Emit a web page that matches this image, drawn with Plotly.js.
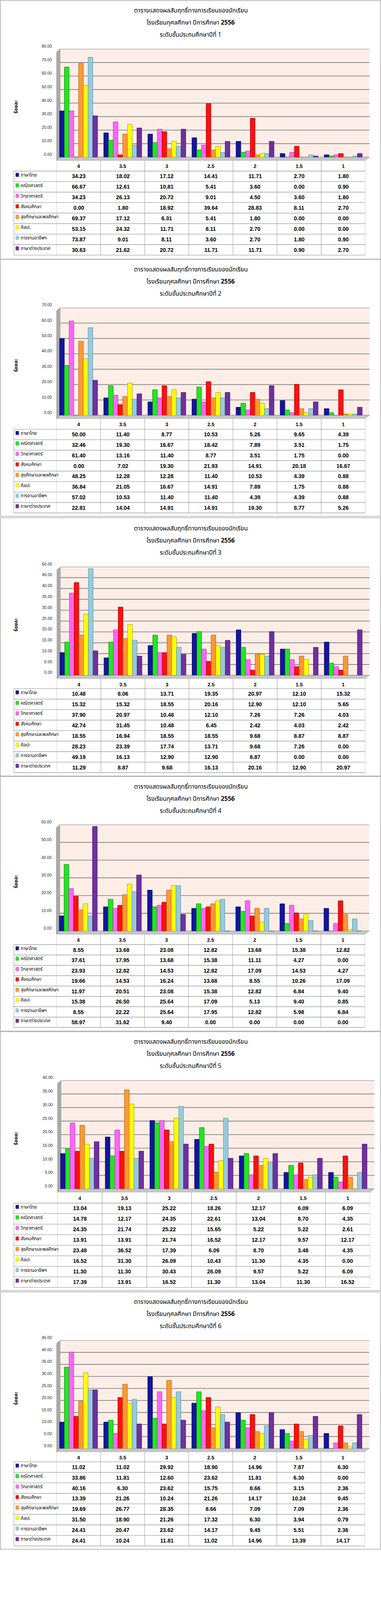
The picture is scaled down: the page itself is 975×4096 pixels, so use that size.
<!DOCTYPE html>
<html><head><meta charset="utf-8">
<script src="https://cdn.plot.ly/plotly-3.0.1.min.js"></script>
<style>html,body{margin:0;padding:0;background:#fff}#chart{width:975px;height:4096px}</style>
</head><body><div id="chart"></div>
<script>
// ---------- DATA ----------
const categories = ['4', '3.5', '3', '2.5', '2', '1.5', '1'];
const subjects = ['ภาษาไทย', 'คณิตศาสตร์', 'วิทยาศาสตร์', 'สังคมศึกษา', 'สุขศึกษาและพลศึกษา', 'ศิลปะ', 'การงานอาชีพฯ', 'ภาษาต่างประเทศ'];
const titleLine1 = 'ตารางแสดงผลสัมฤทธิ์ทางการเรียนของนักเรียน';
const titleLine2 = 'โรงเรียนกุศลศึกษา ปีการศึกษา <b>2556</b>';
const gradeTitles = ['ระดับชั้นประถมศึกษาปีที่ 1', 'ระดับชั้นประถมศึกษาปีที่ 2', 'ระดับชั้นประถมศึกษาปีที่ 3',
                     'ระดับชั้นประถมศึกษาปีที่ 4', 'ระดับชั้นประถมศึกษาปีที่ 5', 'ระดับชั้นประถมศึกษาปีที่ 6'];
const yTitle = 'ร้อยละ';

const grade1 = [
  [34.23, 18.02, 17.12, 14.41, 11.71, 2.70, 1.80],
  [66.67, 12.61, 10.81, 5.41, 3.60, 0.00, 0.90],
  [34.23, 26.13, 20.72, 9.01, 4.50, 3.60, 1.80],
  [0.00, 1.80, 18.92, 39.64, 28.83, 8.11, 2.70],
  [69.37, 17.12, 6.31, 5.41, 1.80, 0.00, 0.00],
  [53.15, 24.32, 11.71, 8.11, 2.70, 0.00, 0.00],
  [73.87, 9.01, 8.11, 3.60, 2.70, 1.80, 0.90],
  [30.63, 21.62, 20.72, 11.71, 11.71, 0.90, 2.70]
];
const grade2 = [
  [50.00, 11.40, 8.77, 10.53, 5.26, 9.65, 4.39],
  [32.46, 19.30, 16.67, 18.42, 7.89, 3.51, 1.75],
  [61.40, 13.16, 11.40, 8.77, 3.51, 1.75, 0.00],
  [0.00, 7.02, 19.30, 21.93, 14.91, 20.18, 16.67],
  [48.25, 12.28, 12.28, 11.40, 10.53, 4.39, 0.88],
  [36.84, 21.05, 16.67, 14.91, 7.89, 1.75, 0.88],
  [57.02, 10.53, 11.40, 11.40, 4.39, 4.39, 0.88],
  [22.81, 14.04, 14.91, 14.91, 19.30, 8.77, 5.26]
];
const grade3 = [
  [10.48, 8.06, 13.71, 19.35, 20.97, 12.10, 15.32],
  [15.32, 15.32, 18.55, 20.16, 12.90, 12.10, 5.65],
  [37.90, 20.97, 10.48, 12.10, 7.26, 7.26, 4.03],
  [42.74, 31.45, 10.48, 6.45, 2.42, 4.03, 2.42],
  [18.55, 16.94, 18.55, 18.55, 9.68, 8.87, 8.87],
  [28.23, 23.39, 17.74, 13.71, 9.68, 7.26, 0.00],
  [49.19, 16.13, 12.90, 12.90, 8.87, 0.00, 0.00],
  [11.29, 8.87, 9.68, 16.13, 20.16, 12.90, 20.97]
];
const grade4 = [
  [8.55, 13.68, 23.08, 12.82, 13.68, 15.38, 12.82],
  [37.61, 17.95, 13.68, 15.38, 11.11, 4.27, 0.00],
  [23.93, 12.82, 14.53, 12.82, 17.09, 14.53, 4.27],
  [19.66, 14.53, 16.24, 13.68, 8.55, 10.26, 17.09],
  [11.97, 20.51, 23.08, 15.38, 12.82, 6.84, 9.40],
  [15.38, 26.50, 25.64, 17.09, 5.13, 9.40, 0.85],
  [8.55, 22.22, 25.64, 17.95, 12.82, 5.98, 6.84],
  [58.97, 31.62, 9.40, 0.00, 0.00, 0.00, 0.00]
];
const grade5 = [
  [13.04, 19.13, 25.22, 18.26, 12.17, 6.09, 6.09],
  [14.78, 12.17, 24.35, 22.61, 13.04, 8.70, 4.35],
  [24.35, 21.74, 25.22, 15.65, 5.22, 5.22, 2.61],
  [13.91, 13.91, 21.74, 16.52, 12.17, 9.57, 12.17],
  [23.48, 36.52, 17.39, 6.09, 8.70, 3.48, 4.35],
  [16.52, 31.30, 26.09, 10.43, 11.30, 4.35, 0.00],
  [11.30, 11.30, 30.43, 26.09, 9.57, 5.22, 6.09],
  [17.39, 13.91, 16.52, 11.30, 13.04, 11.30, 16.52]
];
const grade6 = [
  [11.02, 11.02, 29.92, 18.90, 14.96, 7.87, 6.30],
  [33.86, 11.81, 12.60, 23.62, 11.81, 6.30, 0.00],
  [40.16, 6.30, 23.62, 15.75, 8.66, 3.15, 2.36],
  [13.39, 21.26, 10.24, 21.26, 14.17, 10.24, 9.45],
  [19.69, 26.77, 28.35, 8.66, 7.09, 7.09, 2.36],
  [31.50, 18.90, 21.26, 17.32, 6.30, 3.94, 0.79],
  [24.41, 20.47, 23.62, 14.17, 9.45, 5.51, 2.36],
  [24.41, 10.24, 11.81, 11.02, 14.96, 13.39, 14.17]
];
const yAxisMax = [80, 70, 50, 60, 40, 45];
const yAxisStep = [10, 10, 5, 10, 5, 5];

// ---------- STYLE / GEOMETRY ----------
const grades = [grade1, grade2, grade3, grade4, grade5, grade6];
const colors = ['#15159E', '#22E622', '#FF66FF', '#FF1010', '#FF9933', '#FFFF00', '#96CADC', '#7030A0'];
const edges  = ['#05054F', '#0E7A0E', '#A8389F', '#8A0000', '#A55A12', '#9C9400', '#5B8C9C', '#3E1060'];
const thaiFont = "Tahoma, 'Noto Sans Thai', 'Noto Sans', 'DejaVu Sans', sans-serif";
const numFont = "'Liberation Sans', Arial, sans-serif";
const W = 1260, H = 5293;
// reference-pixel geometry of each panel
const geom = [
  {top: 2,    bottom: 857,  title: 36,   wall: 162,  zero: 520,  row0: 566,  row1: 844,  left: 187, right: 1208},
  {top: 858,  bottom: 1708, title: 892,  wall: 1018, zero: 1374, row0: 1420, row1: 1697, left: 187, right: 1208},
  {top: 1713, bottom: 2567, title: 1749, wall: 1875, zero: 2234, row0: 2278, row1: 2556, left: 188, right: 1208},
  {top: 2569, bottom: 3411, title: 2603, wall: 2728, zero: 3080, row0: 3125, row1: 3399, left: 186, right: 1207},
  {top: 3413, bottom: 4270, title: 3447, wall: 3574, zero: 3933, row0: 3980, row1: 4259, left: 190, right: 1224},
  {top: 4274, bottom: 5125, title: 4308, wall: 4434, zero: 4792, row0: 4836, row1: 5114, left: 187, right: 1207}
];
const px = y => 1 - y / H;
const pxX = x => x / W;

const traces = [];
const shapes = [];
const annotations = [];
const layout = {
  width: 975, height: 4096,
  margin: {l: 0, r: 0, t: 0, b: 0},
  paper_bgcolor: '#ffffff', plot_bgcolor: 'rgba(0,0,0,0)',
  showlegend: false, barmode: 'group', bargap: 0.14, bargroupgap: 0,
  hovermode: false
};

grades.forEach((grade, g) => {
  const G = geom[g];
  const suf = g === 0 ? '' : String(g + 1);
  const xa = 'x' + suf, ya = 'y' + suf;

  grade.forEach((vals, s) => {
    traces.push({
      type: 'bar', x: categories, y: vals, xaxis: xa, yaxis: ya, name: subjects[s],
      marker: {color: colors[s], line: {color: edges[s], width: 1}},
      hoverinfo: 'skip'
    });
  });

  layout['xaxis' + suf] = {
    domain: [pxX(G.left), pxX(G.right)], anchor: ya, type: 'category',
    categoryorder: 'array', categoryarray: categories, range: [-0.5, 6.5],
    showgrid: false, zeroline: false, showline: false, ticks: '',
    tickfont: {family: numFont, size: 13, color: '#000', weight: 'bold'},
    ticklabelstandoff: 14, fixedrange: true
  };
  layout['yaxis' + suf] = {
    domain: [px(G.zero), px(G.wall)], anchor: xa, range: [0, yAxisMax[g]],
    tick0: 0, dtick: yAxisStep[g], tickformat: '.2f',
    showgrid: false, zeroline: false, showline: false, ticks: '',
    tickfont: {family: numFont, size: 10.4, color: '#222'},
    ticklabelstandoff: 11, ticklabelshift: -7, fixedrange: true
  };

  const wl = G.left + 12, wr = G.right + 14;
  // panel frame
  shapes.push({type: 'rect', xref: 'paper', yref: 'paper', x0: pxX(1), x1: pxX(1258), y0: px(G.bottom), y1: px(G.top),
    line: {color: '#A6A6A6', width: 1.5}, fillcolor: 'rgba(0,0,0,0)', layer: 'below'});
  // back wall
  shapes.push({type: 'rect', xref: 'paper', yref: 'paper', x0: pxX(wl), x1: pxX(wr), y0: px(G.zero), y1: px(G.wall),
    line: {width: 0}, fillcolor: '#FCEEE7', layer: 'below'});
  // gridlines on back wall
  for (let v = 0; v <= yAxisMax[g] + 1e-9; v += yAxisStep[g]) {
    shapes.push({type: 'line', xref: 'paper', yref: ya, x0: pxX(wl), x1: pxX(wr), y0: v, y1: v,
      line: {color: '#858585', width: 1.9}, layer: 'below'});
  }
  // left side wall
  shapes.push({type: 'path', xref: 'paper', yref: 'paper',
    path: `M ${pxX(G.left)} ${px(G.wall + 10)} L ${pxX(wl)} ${px(G.wall)} L ${pxX(wl)} ${px(G.zero)} L ${pxX(G.left)} ${px(G.zero + 11)} Z`,
    fillcolor: '#A9A9A9', line: {color: '#8E8E8E', width: 0.6}, layer: 'below'});
  // floor
  shapes.push({type: 'path', xref: 'paper', yref: 'paper',
    path: `M ${pxX(G.left)} ${px(G.zero + 11)} L ${pxX(wl)} ${px(G.zero)} L ${pxX(wr)} ${px(G.zero)} L ${pxX(G.right)} ${px(G.zero + 11)} Z`,
    fillcolor: '#C6C6C6', line: {color: '#9A9A9A', width: 0.6}, layer: 'below'});

  // data table
  const rh = (G.row1 - G.row0) / subjects.length;
  for (let i = 0; i <= subjects.length; i++) {
    const yy = G.row0 + i * rh;
    shapes.push({type: 'line', xref: 'paper', yref: 'paper', x0: pxX(46), x1: pxX(G.right), y0: px(yy), y1: px(yy),
      line: {color: '#A0A0A0', width: 1.4}});
  }
  for (let k = 0; k <= categories.length; k++) {
    shapes.push({type: 'line', xref: xa, yref: 'paper', x0: k - 0.5, x1: k - 0.5, y0: px(G.zero + 11), y1: px(G.row1),
      line: {color: '#A0A0A0', width: 1.1}});
  }
  shapes.push({type: 'line', xref: 'paper', yref: 'paper', x0: pxX(46), x1: pxX(46), y0: px(G.row0), y1: px(G.row1),
    line: {color: '#A0A0A0', width: 1.1}});

  subjects.forEach((name, s) => {
    const cy = G.row0 + (s + 0.5) * rh;
    shapes.push({type: 'rect', xref: 'paper', yref: 'paper', x0: pxX(52), x1: pxX(62), y0: px(cy + 1), y1: px(cy - 11),
      fillcolor: colors[s], line: {color: edges[s], width: 0.5}});
    annotations.push({xref: 'paper', yref: 'paper', x: pxX(66), y: px(cy - 4), xanchor: 'left', yanchor: 'middle',
      text: name, showarrow: false, font: {family: thaiFont, size: 11.5, color: '#000'}});
    grade[s].forEach((v, c) => {
      annotations.push({xref: xa, yref: 'paper', x: c, y: px(cy), xanchor: 'center', yanchor: 'middle',
        text: v.toFixed(2), showarrow: false, font: {family: numFont, size: 14, color: '#000', weight: 'bold'}});
    });
  });

  // titles
  [titleLine1, titleLine2, gradeTitles[g]].forEach((t, i) => {
    annotations.push({xref: 'paper', yref: 'paper', x: pxX(631), y: px(G.title + i * 40), xanchor: 'center', yanchor: 'middle',
      text: t, showarrow: false, font: {family: thaiFont, size: 15.5, color: '#000'}});
  });
  // y axis title
  annotations.push({xref: 'paper', yref: 'paper', x: pxX(54), y: px((G.wall + G.zero) / 2 + 13), xanchor: 'center', yanchor: 'middle',
    text: '<b>' + yTitle + '</b>', textangle: -90, showarrow: false, font: {family: thaiFont, size: 12.5, color: '#000'}});
});

layout.shapes = shapes;
layout.annotations = annotations;
Plotly.newPlot('chart', traces, layout, {staticPlot: true, displayModeBar: false});
</script>
</body></html>
